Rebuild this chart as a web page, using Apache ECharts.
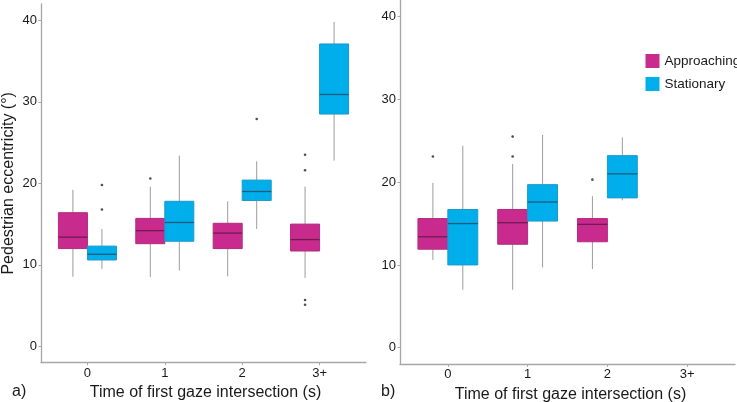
<!DOCTYPE html>
<html>
<head>
<meta charset="utf-8">
<script src="https://cdn.jsdelivr.net/npm/echarts@6/dist/echarts.min.js"></script>
<style>
html,body{margin:0;padding:0;background:#fff;}
#chart{width:737px;height:402px;}
</style>
</head>
<body>
<div id="chart"></div>
<script>
// ---- data ----
const categories = ['0', '1', '2', '3+'];
const yTicks = [0, 10, 20, 30, 40];
const seriesNames = ['Approaching', 'Stationary'];

// [min whisker, Q1, median, Q3, max whisker] per category
const leftApproaching = [[8.55, 12.0, 13.4, 16.4, 19.2], [8.5, 12.6, 14.2, 15.7, 19.6], [8.6, 12.0, 13.9, 15.1, 17.8], [8.4, 11.7, 13.1, 15.0, 19.6]];
const leftStationary  = [[9.5, 10.6, 11.3, 12.3, 14.4], [9.3, 12.9, 15.2, 17.8, 23.4], [14.4, 17.9, 19.0, 20.4, 22.7], [22.8, 28.5, 30.9, 37.1, 39.8]];
const leftApproachingOutliers = [[], [20.6], [], [23.5, 21.6, 5.7, 5.1]];
const leftStationaryOutliers  = [[19.8, 16.8], [], [27.9], []];

const rightApproaching = [[10.6, 11.9, 13.4, 15.6, 19.9], [7.0, 12.5, 15.1, 16.7, 22.2], [9.5, 12.8, 14.9, 15.6, 18.3], null];
const rightStationary  = [[7.0, 10.0, 15.0, 16.7, 24.4], [9.7, 15.3, 17.6, 19.7, 25.7], [17.8, 18.1, 21.0, 23.2, 25.4], null];
const rightApproachingOutliers = [[23.1], [25.5, 23.1], [20.3], []];
const rightStationaryOutliers  = [[], [], [], []];

// ---- styling ----
const MAG = '#c92a8d', MAG_BORDER = '#b02b7f', MAG_MED = '#6e1c50';
const BLU = '#00aeec', BLU_BORDER = '#1e98c8', BLU_MED = '#1b5a78';
const WHISKER = '#9c9c9c';
const AXIS = '#a6a6a6';
const TEXT = '#1a1a1a';
const FONT = '"Liberation Sans", Arial, sans-serif';
const DODGE = 0.1875, BOX_W = 0.375;

function boxData(stats, offset) {
  const out = [];
  stats.forEach((s, i) => { if (s) out.push([i + 1 + offset].concat(s)); });
  return out;
}
function outlierData(list, offset) {
  const out = [];
  list.forEach((vals, i) => vals.forEach(v => out.push([i + 1 + offset, v])));
  return out;
}
function renderBox(fill, border, med) {
  return function (params, api) {
    const x = api.value(0);
    const lo = api.coord([x, api.value(1)]);
    const q1 = api.coord([x, api.value(2)]);
    const md = api.coord([x, api.value(3)]);
    const q3 = api.coord([x, api.value(4)]);
    const hi = api.coord([x, api.value(5)]);
    const w = api.size([BOX_W, 0])[0];
    return {
      type: 'group',
      children: [
        { type: 'line', shape: { x1: lo[0], y1: lo[1], x2: q1[0], y2: q1[1] }, style: { stroke: WHISKER, lineWidth: 1 } },
        { type: 'line', shape: { x1: q3[0], y1: q3[1], x2: hi[0], y2: hi[1] }, style: { stroke: WHISKER, lineWidth: 1 } },
        { type: 'rect', shape: { x: q1[0] - w / 2, y: q3[1], width: w, height: q1[1] - q3[1] }, style: { fill: fill, stroke: border, lineWidth: 1 } },
        { type: 'line', shape: { x1: md[0] - w / 2, y1: md[1], x2: md[0] + w / 2, y2: md[1] }, style: { stroke: med, lineWidth: 1.3 } }
      ]
    };
  };
}

const grids = [
  { left: 41, top: 4, width: 325, height: 358.7, outerBoundsMode: 'none' },
  { left: 400, top: 0, width: 335, height: 364.3, outerBoundsMode: 'none' }
];

function xAxis(idx) {
  return {
    type: 'value', gridIndex: idx, min: 0.4, max: 4.6,
    name: 'Time of first gaze intersection (s)', nameLocation: 'middle', nameGap: 21,
    nameTextStyle: { fontSize: 16, color: TEXT, fontFamily: FONT, padding: idx === 1 ? [0, 0, 0, 6] : [0, 0, 0, 4] },
    axisLine: { show: true, onZero: false, lineStyle: { color: AXIS, width: 1.3 } },
    axisTick: { show: true, length: 2.5, customValues: [1, 2, 3, 4], lineStyle: { color: AXIS } },
    axisLabel: { customValues: [1, 2, 3, 4], formatter: v => categories[Math.round(v) - 1], fontSize: 13, color: TEXT, fontFamily: FONT, margin: 4 },
    splitLine: { show: false }
  };
}
function yAxis(idx, withName) {
  return {
    type: 'value', gridIndex: idx, min: -2, max: 42,
    name: withName ? 'Pedestrian eccentricity (°)' : '', nameLocation: 'middle', nameGap: 24,
    nameTextStyle: { fontSize: 16, color: TEXT, fontFamily: FONT },
    axisLine: { show: true, onZero: false, lineStyle: { color: AXIS, width: 1.3 } },
    axisTick: { show: true, length: 2.5, customValues: yTicks, lineStyle: { color: AXIS } },
    axisLabel: { customValues: yTicks, fontSize: 13, color: TEXT, fontFamily: FONT, margin: 4 },
    splitLine: { show: false }
  };
}

function panelSeries(idx, appr, stat, apprOut, statOut) {
  return [
    { type: 'custom', name: seriesNames[0], xAxisIndex: idx, yAxisIndex: idx, itemStyle: { color: MAG },
      renderItem: renderBox(MAG, MAG_BORDER, MAG_MED), encode: { x: 0, y: [1, 2, 3, 4, 5] }, data: boxData(appr, -DODGE) },
    { type: 'custom', name: seriesNames[1], xAxisIndex: idx, yAxisIndex: idx, itemStyle: { color: BLU },
      renderItem: renderBox(BLU, BLU_BORDER, BLU_MED), encode: { x: 0, y: [1, 2, 3, 4, 5] }, data: boxData(stat, DODGE) },
    { type: 'scatter', xAxisIndex: idx, yAxisIndex: idx, symbolSize: 2.6, itemStyle: { color: '#222' }, silent: true,
      data: outlierData(apprOut, -DODGE).concat(outlierData(statOut, DODGE)) }
  ];
}

const chart = echarts.init(document.getElementById('chart'), null, { renderer: 'canvas' });
chart.setOption({
  animation: false,
  backgroundColor: '#fff',
  textStyle: { fontFamily: FONT },
  grid: grids,
  xAxis: [xAxis(0), xAxis(1)],
  yAxis: [yAxis(0, true), yAxis(1, false)],
  legend: {
    orient: 'vertical', left: 640.5, top: 49, itemWidth: 14, itemHeight: 14, itemGap: 9,
    selectedMode: false,
    textStyle: { fontSize: 13.5, color: TEXT, fontFamily: FONT },
    data: [
      { name: seriesNames[0], icon: 'rect', itemStyle: { color: MAG } },
      { name: seriesNames[1], icon: 'rect', itemStyle: { color: BLU } }
    ]
  },
  graphic: [
    { type: 'text', left: 12, top: 384, style: { text: 'a)', fontSize: 16, fill: TEXT, fontFamily: FONT } },
    { type: 'text', left: 381, top: 384, style: { text: 'b)', fontSize: 16, fill: TEXT, fontFamily: FONT } }
  ],
  series: panelSeries(0, leftApproaching, leftStationary, leftApproachingOutliers, leftStationaryOutliers)
    .concat(panelSeries(1, rightApproaching, rightStationary, rightApproachingOutliers, rightStationaryOutliers))
});
</script>
</body>
</html>
